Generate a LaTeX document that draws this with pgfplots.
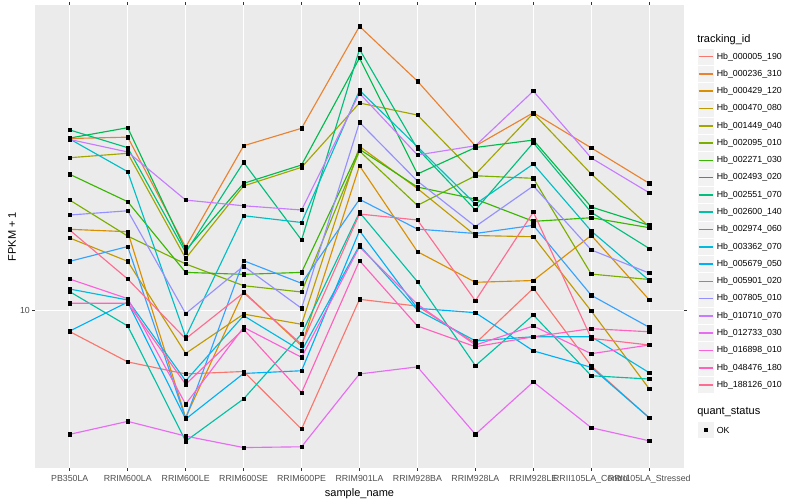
\documentclass[border=0pt]{standalone}
\usepackage{pgfplots}
\pgfplotsset{compat=1.18}
\usepackage{pgfplotstable}
\usepackage{fontspec}
\setmainfont{Liberation Sans}

% ggplot hue palette, 20 levels
\definecolor{c1}{HTML}{F8766D}
\definecolor{c2}{HTML}{EA8331}
\definecolor{c3}{HTML}{D89000}
\definecolor{c4}{HTML}{C09B00}
\definecolor{c5}{HTML}{A3A500}
\definecolor{c6}{HTML}{7CAE00}
\definecolor{c7}{HTML}{39B600}
\definecolor{c8}{HTML}{00BB4E}
\definecolor{c9}{HTML}{00BF7D}
\definecolor{c10}{HTML}{00C1A3}
\definecolor{c11}{HTML}{00BFC4}
\definecolor{c12}{HTML}{00BAE0}
\definecolor{c13}{HTML}{00B0F6}
\definecolor{c14}{HTML}{35A2FF}
\definecolor{c15}{HTML}{9590FF}
\definecolor{c16}{HTML}{C77CFF}
\definecolor{c17}{HTML}{E76BF3}
\definecolor{c18}{HTML}{FA62DB}
\definecolor{c19}{HTML}{FF62BC}
\definecolor{c20}{HTML}{FF6C91}
\definecolor{panelbg}{HTML}{EBEBEB}
\definecolor{keybg}{HTML}{F2F2F2}
\definecolor{ticklab}{HTML}{4D4D4D}
\definecolor{tickcol}{HTML}{333333}

% FPKM + 1 per sample (rows) and tracking_id (columns s1..s20)
\pgfplotstableread{
x  s1    s2    s3    s4    s5    s6    s7    s8    s9    s10   s11   s12   s13   s14   s15   s16   s17  s18   s19   s20
0  8.87  26.95 15.98 15.20 24.13 18.91 21.93 27.02 28.31 11.16 26.87 11.33 8.90  13.29 17.35 26.80 4.91 12.00 10.44 15.91
1  7.45  27.16 15.76 13.29 24.75 15.37 18.73 28.68 25.56 9.16  22.26 10.64 10.51 14.47 17.78 24.94 5.29 10.72 10.44 12.00
2  6.95  14.42 5.41  7.82  13.52 13.09 12.47 14.15 13.98 4.72  8.60  6.68  5.36  5.37  9.84  18.91 4.86 5.84  6.55  8.51
3  7.05  25.85 11.16 9.81  20.51 11.55 12.33 20.82 23.50 6.02  17.28 9.72  6.97  13.34 12.93 18.30 4.55 9.09  8.99  11.09
4  5.06  28.58 8.17  9.25  22.83 11.14 12.47 23.14 15.02 8.75  16.62 7.93  7.08  11.71 10.14 17.86 4.57 7.65  6.24  8.24
5  10.68 51.40 23.04 25.76 33.06 25.07 25.33 42.83 45.03 17.62 35.56 14.57 15.85 18.99 29.58 34.96 6.95 14.45 13.34 17.45
6  10.27 37.50 14.05 20.21 30.85 18.34 20.38 21.97 25.41 11.82 25.70 10.04 10.14 16.00 21.09 24.51 7.24 10.38 9.16  16.86
7  8.29  25.82 11.78 15.42 21.93 21.75 19.02 25.59 17.86 7.29  18.48 8.41  9.89  15.60 16.24 25.85 4.91 8.21  8.13  10.59
8  11.38 31.26 11.90 15.31 31.15 21.43 16.73 26.71 26.30 9.76  23.27 8.61  7.94  16.35 20.51 35.42 6.64 9.16  8.61  17.65
9  7.28  25.53 15.43 9.98  21.97 12.35 17.08 18.17 17.62 6.88  15.82 8.61  7.22  10.93 14.19 24.09 5.10 7.81  9.02  8.53
10 5.40  20.82 10.65 6.38  16.22 11.97 16.13 16.35 14.31 6.75  11.90 7.00  5.40  9.09  12.42 19.72 4.73 8.21  8.86  8.21
}\fpkm

\begin{document}
\begin{tikzpicture}
\path[use as bounding box] (0,0) rectangle (600pt,375pt);
\begin{axis}[
  at={(26.25pt,24pt)}, anchor=south west,
  scale only axis, width=486.75pt, height=347.25pt,
  ymode=log, ymin=4.045, ymax=58.12,
  xmin=-0.6, xmax=10.6,
  xtick={0,...,10},
  xticklabels={PB350LA,RRIM600LA,RRIM600LE,RRIM600SE,RRIM600PE,RRIM901LA,RRIM928BA,RRIM928LA,RRIM928LE,RRII105LA\_Control,RRII105LA\_Stressed},
  ytick={10}, yticklabels={10},
  yminorticks=false, xminorticks=false,
  axis background/.style={fill=panelbg},
  axis line style={draw=none},
  grid=major, major grid style={white, line width=1pt},
  tick align=outside, major tick length=2.06pt,
  tick style={draw=tickcol, line width=0.8pt},
  ticklabel style={font=\fontsize{6.6}{7.9}\selectfont, text=ticklab, inner sep=0pt},
  xticklabel style={yshift=-3.4pt},
  yticklabel style={xshift=-1.6pt},
  xlabel={sample\_name}, ylabel={FPKM + 1},
  label style={font=\fontsize{8.25}{9.9}\selectfont, inner sep=0pt},
  xlabel style={at={(axis description cs:0.5,-0.043)}, anchor=north},
  ylabel style={at={(axis description cs:-0.029,0.5)}, anchor=south},
]
\pgfplotsinvokeforeach{1,...,20}{
  \addplot[c#1, line width=0.85pt] table[x=x, y=s#1]{\fpkm};
}
\pgfplotsinvokeforeach{1,...,20}{
  \addplot[only marks, mark=square*, mark size=1.25pt, black] table[x=x, y=s#1]{\fpkm};
}
\end{axis}

% legends, positioned in pixel units of the 800x500 image
\begin{scope}[x=0.75pt, y=-0.75pt, yshift=375pt]
\node[anchor=west, inner sep=0pt, font=\fontsize{8.25}{9.9}\selectfont] at (697,40) {tracking\_id};
\foreach \n [count=\i] in {Hb\_000005\_190,Hb\_000236\_310,Hb\_000429\_120,Hb\_000470\_080,Hb\_001449\_040,Hb\_002095\_010,Hb\_002271\_030,Hb\_002493\_020,Hb\_002551\_070,Hb\_002600\_140,Hb\_002974\_060,Hb\_003362\_070,Hb\_005679\_050,Hb\_005901\_020,Hb\_007805\_010,Hb\_010710\_070,Hb\_012733\_030,Hb\_016898\_010,Hb\_048476\_180,Hb\_188126\_010}{
  \pgfmathsetmacro\yy{56.7+17.28*(\i-1)}
  \filldraw[fill=keybg, draw=white, line width=0.5pt] (697.3,\yy-8.64) rectangle (714.6,\yy+8.64);
  \draw[c\i, line width=1.2pt] (698.5,\yy) -- (713.4,\yy);
  \node[anchor=west, inner sep=0pt, font=\fontsize{6.6}{7.9}\selectfont] at (716.5,\yy) {\n};
}
\node[anchor=west, inner sep=0pt, font=\fontsize{8.25}{9.9}\selectfont] at (697,412.3) {quant\_status};
\filldraw[fill=keybg, draw=white, line width=0.5pt] (697.3,421.4) rectangle (714.6,438.6);
\fill[black] (704.2,428.2) rectangle (707.8,431.8);
\node[anchor=west, inner sep=0pt, font=\fontsize{6.6}{7.9}\selectfont] at (716.5,430) {OK};
\end{scope}
\end{tikzpicture}
\end{document}
